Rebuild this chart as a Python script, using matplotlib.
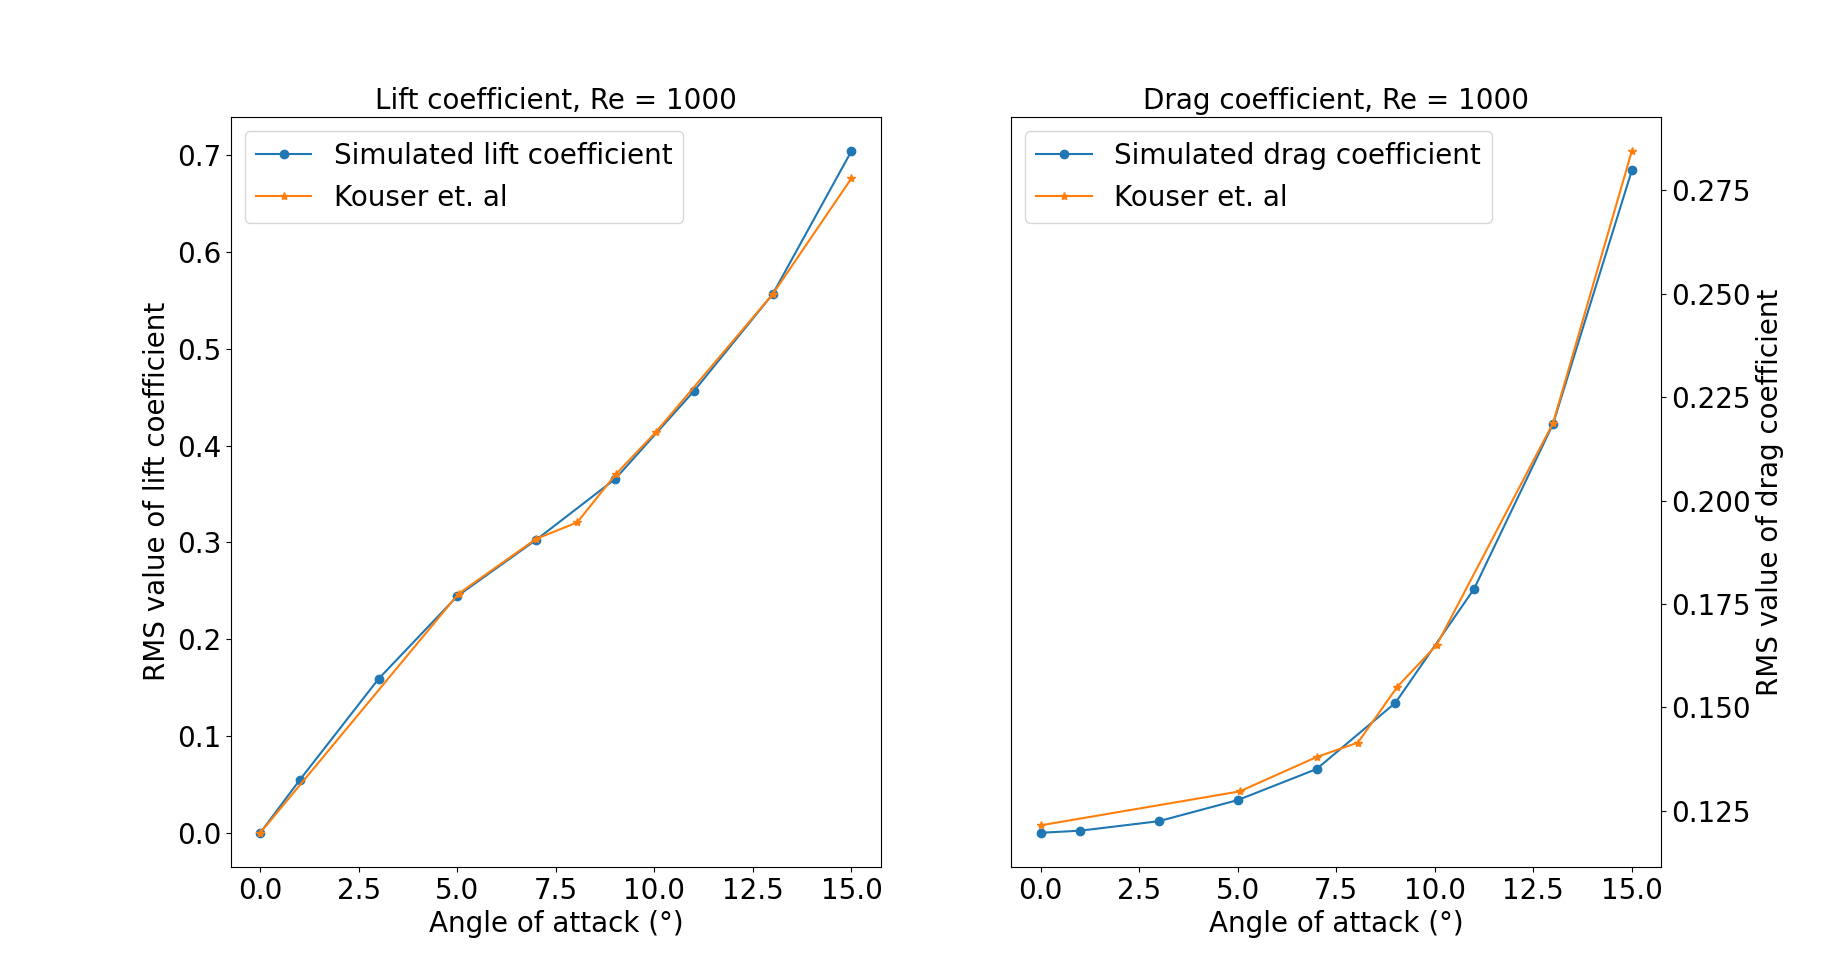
import numpy as np
import matplotlib
matplotlib.use('Agg')
import matplotlib.pyplot as plt

# simulated data (both coefficients share the same angles)
aoa_sim = [0, 1, 3, 5, 7, 9, 11, 13, 15]
cl_sim = [0.0, 0.0545, 0.159, 0.2446, 0.3027, 0.3654, 0.4563, 0.5565, 0.7045]
cd_sim = [0.1197, 0.1202, 0.1225, 0.1276, 0.1351, 0.1511, 0.1787, 0.2185, 0.2798]

# reference data, Kouser et. al
aoa_ref = [0, 5.03, 7.0, 8.04, 9.02, 10.04, 13.0, 15.0]
cl_ref = [0.0, 0.247, 0.3037, 0.3207, 0.3705, 0.4142, 0.5565, 0.6763]
aoa_ref_cd = [0, 5.05, 7.0, 8.05, 9.05, 10.05, 13.0, 15.0]
cd_ref = [0.1215, 0.1297, 0.138, 0.1415, 0.155, 0.1651, 0.2187, 0.2845]

plt.rcParams['font.size'] = 20
plt.rcParams['axes.titlesize'] = 20

fig, (ax1, ax2) = plt.subplots(1, 2, figsize=(18.46, 9.74), dpi=100)

ax1.plot(aoa_sim, cl_sim, 'o-', label='Simulated lift coefficient')
ax1.plot(aoa_ref, cl_ref, '*-', label='Kouser et. al')
ax1.set_title('Lift coefficient, Re = 1000')
ax1.set_xlabel('Angle of attack (°)')
ax1.set_ylabel('RMS value of lift coefficient')
ax1.legend(loc='upper left')

ax2.plot(aoa_sim, cd_sim, 'o-', label='Simulated drag coefficient')
ax2.plot(aoa_ref_cd, cd_ref, '*-', label='Kouser et. al')
ax2.set_title('Drag coefficient, Re = 1000')
ax2.set_xlabel('Angle of attack (°)')
ax2.set_ylabel('RMS value of drag coefficient')
ax2.yaxis.tick_right()
ax2.yaxis.set_label_position('right')
ax2.legend(loc='upper left')

plt.savefig('out.png', dpi=100)
